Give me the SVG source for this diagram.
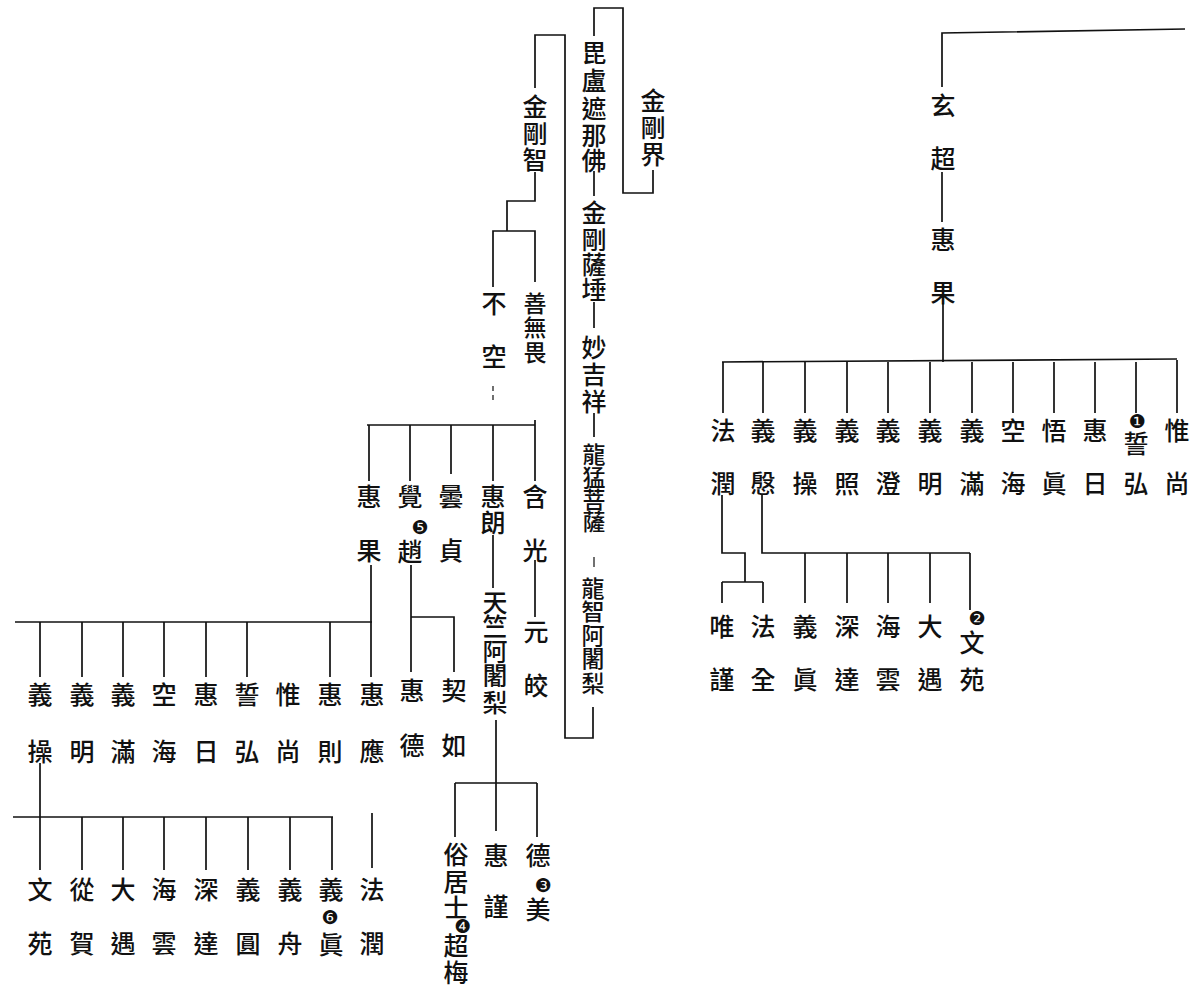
<svg xmlns="http://www.w3.org/2000/svg" width="1199" height="996" viewBox="0 0 1199 996">
  <style>
    .ln { fill: none; stroke: #111; stroke-width: 1.7; }
    .lt { fill: none; stroke: #111; stroke-width: 1.2; }
    .t { font-family: "Noto Sans CJK TC", "Noto Sans CJK JP", sans-serif; font-size: 25px; font-weight: 500; text-anchor: middle; dominant-baseline: central; fill: #111; }
    .s { font-size: 23px; }
    .n { font-family: "DejaVu Sans", sans-serif; font-size: 19px; text-anchor: middle; dominant-baseline: central; fill: #111; }
  </style>
  <rect width="1199" height="996" fill="#fff"/>

  <!-- connectors -->
  <g id="connectors">
    <!-- 金剛界 lineage -->
    <path class="ln" d="M653,170 V193 H623 V8 H594 V36"/>
    <path class="ln" d="M594,171 V196"/>
    <path class="ln" d="M594,302 V328"/>
    <path class="ln" d="M594,413 V437"/>
    <path class="lt" d="M594,557 V567"/>
    <path class="ln" d="M593,707 V738 H565 V35 H535 V88"/>
    <!-- 金剛智 to 不空 / 善無畏 -->
    <path class="ln" d="M535,172 V201 H507 V231"/>
    <path class="ln" d="M493,287 V231 H535 V282"/>
    <!-- 不空 disciples -->
    <path class="lt" d="M493,386 V402" stroke-dasharray="5 4"/>
    <path class="ln" d="M367,425 H535"/>
    <path class="ln" d="M369,425 V481 M410,425 V481 M451,425 V474 M493,425 V481 M535,420 V481"/>
    <path class="ln" d="M493,535 V588"/>
    <path class="ln" d="M535,560 V617"/>
    <!-- 惠果 disciples -->
    <path class="ln" d="M371,565 V677"/>
    <path class="ln" d="M15,622 H372"/>
    <path class="ln" d="M40,622 V677 M82,622 V677 M123,622 V677 M164,622 V677 M206,622 V677 M247,622 V677 M330,622 V677"/>
    <!-- 覺趙 -->
    <path class="ln" d="M411,565 V672 M411,617 H454 V672"/>
    <!-- 天竺阿闍梨 -->
    <path class="ln" d="M496,720 V783 M455,783 H537 M455,783 V837 M496,783 V831 M537,783 V837"/>
    <!-- 義操 disciples -->
    <path class="ln" d="M40,763 V870"/>
    <path class="ln" d="M13,817 H333"/>
    <path class="ln" d="M82,817 V870 M123,817 V870 M164,817 V870 M206,817 V870 M248,817 V870 M290,817 V870 M332,817 V870"/>
    <path class="ln" d="M372,813 V868"/>
    <!-- 玄超 line -->
    <path class="ln" d="M942,87 V33 L1185,29"/>
    <path class="ln" d="M942,172 V222"/>
    <path class="ln" d="M943,303 V362"/>
    <path class="ln" d="M722,362 L1177,359"/>
    <path class="ln" d="M723,362 V413 M763,362 V413 M805,362 V413 M847,362 V413 M888,362 V413 M930,362 V413 M972,362 V413 M1013,362 V413 M1054,362 V413 M1095,362 V413 M1136,362 V413 M1177,360 V413"/>
    <!-- 法潤 -->
    <path class="ln" d="M722,495 V553 H745 V582 M722,582 H763 M722,582 V603 M763,582 V603"/>
    <!-- 義慇 -->
    <path class="ln" d="M762,495 V553 H970"/>
    <path class="ln" d="M805,553 V603 M847,553 V603 M888,553 V603 M930,553 V603 M970,553 V610"/>
  </g>

  <!-- central lineage -->
  <g id="n-kongokai"><text class="t"><tspan x="653" y="99">金</tspan><tspan x="653" y="126">剛</tspan><tspan x="653" y="153">界</tspan></text></g>
  <g id="n-birushana"><text class="t"><tspan x="594" y="51">毘</tspan><tspan x="594" y="79">盧</tspan><tspan x="594" y="107">遮</tspan><tspan x="594" y="134">那</tspan><tspan x="594" y="159">佛</tspan></text></g>
  <g id="n-kongosatta"><text class="t"><tspan x="594" y="211">金</tspan><tspan x="594" y="238">剛</tspan><tspan x="594" y="263">薩</tspan><tspan x="594" y="288">埵</tspan></text></g>
  <g id="n-myokichijo"><text class="t"><tspan x="594" y="346">妙</tspan><tspan x="594" y="373">吉</tspan><tspan x="594" y="400">祥</tspan></text></g>
  <g id="n-ryumo"><text class="t s"><tspan x="594" y="453">龍</tspan><tspan x="594" y="476">猛</tspan><tspan x="594" y="498">菩</tspan><tspan x="594" y="520">薩</tspan></text></g>
  <g id="n-ryuchi"><text class="t s"><tspan x="593" y="587">龍</tspan><tspan x="593" y="610">智</tspan><tspan x="593" y="634">阿</tspan><tspan x="593" y="657">闍</tspan><tspan x="593" y="682">梨</tspan></text></g>
  <g id="n-kongochi"><text class="t"><tspan x="535" y="105">金</tspan><tspan x="535" y="132">剛</tspan><tspan x="535" y="158">智</tspan></text></g>
  <g id="n-zenmui"><text class="t s"><tspan x="535" y="302">善</tspan><tspan x="535" y="326">無</tspan><tspan x="535" y="351">畏</tspan></text></g>
  <g id="n-fuku"><text class="t"><tspan x="494" y="302">不</tspan><tspan x="494" y="355">空</tspan></text></g>

  <!-- 不空 disciples -->
  <g id="n-gankou"><text class="t"><tspan x="535" y="495">含</tspan><tspan x="535" y="549">光</tspan></text></g>
  <g id="n-genkou"><text class="t"><tspan x="536" y="630">元</tspan><tspan x="536" y="684">皎</tspan></text></g>
  <g id="n-eroh"><text class="t"><tspan x="493" y="495">惠</tspan><tspan x="493" y="521">朗</tspan></text></g>
  <g id="n-tenjiku"><text class="t"><tspan x="495" y="601">天</tspan><tspan x="495" y="625">竺</tspan><tspan x="495" y="650">阿</tspan><tspan x="495" y="674">闍</tspan><tspan x="495" y="701">梨</tspan></text></g>
  <g id="n-dontei"><text class="t"><tspan x="451" y="495">曇</tspan><tspan x="451" y="549">貞</tspan></text></g>
  <g id="n-kakucho"><text class="t"><tspan x="410" y="495">覺</tspan><tspan x="410" y="550">趙</tspan></text><text class="n" x="420" y="527">❺</text></g>
  <g id="n-keika-l"><text class="t"><tspan x="369" y="495">惠</tspan><tspan x="369" y="549">果</tspan></text></g>
  <g id="n-etoku"><text class="t"><tspan x="412" y="689">惠</tspan><tspan x="412" y="744">德</tspan></text></g>
  <g id="n-keinyo"><text class="t"><tspan x="454" y="689">契</tspan><tspan x="454" y="744">如</tspan></text></g>

  <!-- 惠果 disciples (left) -->
  <g id="n-l1"><text class="t"><tspan x="40" y="693">義</tspan><tspan x="40" y="750">操</tspan></text></g>
  <g id="n-l2"><text class="t"><tspan x="82" y="693">義</tspan><tspan x="82" y="750">明</tspan></text></g>
  <g id="n-l3"><text class="t"><tspan x="123" y="693">義</tspan><tspan x="123" y="750">滿</tspan></text></g>
  <g id="n-l4"><text class="t"><tspan x="164" y="693">空</tspan><tspan x="164" y="750">海</tspan></text></g>
  <g id="n-l5"><text class="t"><tspan x="206" y="693">惠</tspan><tspan x="206" y="750">日</tspan></text></g>
  <g id="n-l6"><text class="t"><tspan x="247" y="693">誓</tspan><tspan x="247" y="750">弘</tspan></text></g>
  <g id="n-l7"><text class="t"><tspan x="288" y="693">惟</tspan><tspan x="288" y="750">尚</tspan></text></g>
  <g id="n-l8"><text class="t"><tspan x="330" y="693">惠</tspan><tspan x="330" y="750">則</tspan></text></g>
  <g id="n-l9"><text class="t"><tspan x="372" y="693">惠</tspan><tspan x="372" y="750">應</tspan></text></g>

  <!-- 義操 disciples -->
  <g id="n-b1"><text class="t"><tspan x="40" y="888">文</tspan><tspan x="40" y="942">苑</tspan></text></g>
  <g id="n-b2"><text class="t"><tspan x="82" y="888">從</tspan><tspan x="82" y="942">賀</tspan></text></g>
  <g id="n-b3"><text class="t"><tspan x="123" y="888">大</tspan><tspan x="123" y="942">遇</tspan></text></g>
  <g id="n-b4"><text class="t"><tspan x="164" y="888">海</tspan><tspan x="164" y="942">雲</tspan></text></g>
  <g id="n-b5"><text class="t"><tspan x="206" y="888">深</tspan><tspan x="206" y="942">達</tspan></text></g>
  <g id="n-b6"><text class="t"><tspan x="248" y="888">義</tspan><tspan x="248" y="942">圓</tspan></text></g>
  <g id="n-b7"><text class="t"><tspan x="290" y="888">義</tspan><tspan x="290" y="942">舟</tspan></text></g>
  <g id="n-b8"><text class="t"><tspan x="331" y="888">義</tspan><tspan x="331" y="943">眞</tspan></text><text class="n" x="330" y="917">❻</text></g>
  <g id="n-b9"><text class="t"><tspan x="372" y="888">法</tspan><tspan x="372" y="942">潤</tspan></text></g>

  <!-- 天竺阿闍梨 disciples -->
  <g id="n-zokkoji"><text class="t"><tspan x="456" y="853">俗</tspan><tspan x="456" y="880">居</tspan><tspan x="456" y="906">士</tspan><tspan x="456" y="944">超</tspan><tspan x="456" y="971">梅</tspan></text><text class="n" x="463" y="926">❹</text></g>
  <g id="n-ekin"><text class="t"><tspan x="496" y="854">惠</tspan><tspan x="496" y="905">謹</tspan></text></g>
  <g id="n-tokubi"><text class="t"><tspan x="538" y="854">德</tspan><tspan x="538" y="908">美</tspan></text><text class="n" x="543" y="885">❸</text></g>

  <!-- right lineage -->
  <g id="n-gencho"><text class="t"><tspan x="943" y="104">玄</tspan><tspan x="943" y="157">超</tspan></text></g>
  <g id="n-keika-r"><text class="t"><tspan x="943" y="238">惠</tspan><tspan x="943" y="291">果</tspan></text></g>
  <g id="n-r1"><text class="t"><tspan x="723" y="429">法</tspan><tspan x="723" y="482">潤</tspan></text></g>
  <g id="n-r2"><text class="t"><tspan x="763" y="429">義</tspan><tspan x="763" y="482">慇</tspan></text></g>
  <g id="n-r3"><text class="t"><tspan x="805" y="429">義</tspan><tspan x="805" y="482">操</tspan></text></g>
  <g id="n-r4"><text class="t"><tspan x="847" y="429">義</tspan><tspan x="847" y="482">照</tspan></text></g>
  <g id="n-r5"><text class="t"><tspan x="888" y="429">義</tspan><tspan x="888" y="482">澄</tspan></text></g>
  <g id="n-r6"><text class="t"><tspan x="930" y="429">義</tspan><tspan x="930" y="482">明</tspan></text></g>
  <g id="n-r7"><text class="t"><tspan x="972" y="429">義</tspan><tspan x="972" y="482">滿</tspan></text></g>
  <g id="n-r8"><text class="t"><tspan x="1013" y="429">空</tspan><tspan x="1013" y="482">海</tspan></text></g>
  <g id="n-r9"><text class="t"><tspan x="1054" y="429">悟</tspan><tspan x="1054" y="482">眞</tspan></text></g>
  <g id="n-r10"><text class="t"><tspan x="1095" y="429">惠</tspan><tspan x="1095" y="482">日</tspan></text></g>
  <g id="n-r11"><text class="t"><tspan x="1136" y="442">誓</tspan><tspan x="1136" y="482">弘</tspan></text><text class="n" x="1137" y="421">❶</text></g>
  <g id="n-r12"><text class="t"><tspan x="1177" y="429">惟</tspan><tspan x="1177" y="482">尚</tspan></text></g>

  <!-- 法潤 / 義慇 disciples -->
  <g id="n-s1"><text class="t"><tspan x="722" y="625">唯</tspan><tspan x="722" y="678">謹</tspan></text></g>
  <g id="n-s2"><text class="t"><tspan x="763" y="625">法</tspan><tspan x="763" y="678">全</tspan></text></g>
  <g id="n-s3"><text class="t"><tspan x="805" y="625">義</tspan><tspan x="805" y="678">眞</tspan></text></g>
  <g id="n-s4"><text class="t"><tspan x="847" y="625">深</tspan><tspan x="847" y="678">達</tspan></text></g>
  <g id="n-s5"><text class="t"><tspan x="888" y="625">海</tspan><tspan x="888" y="678">雲</tspan></text></g>
  <g id="n-s6"><text class="t"><tspan x="930" y="625">大</tspan><tspan x="930" y="678">遇</tspan></text></g>
  <g id="n-s7"><text class="t"><tspan x="972" y="641">文</tspan><tspan x="972" y="678">苑</tspan></text><text class="n" x="977" y="618">❷</text></g>
</svg>
